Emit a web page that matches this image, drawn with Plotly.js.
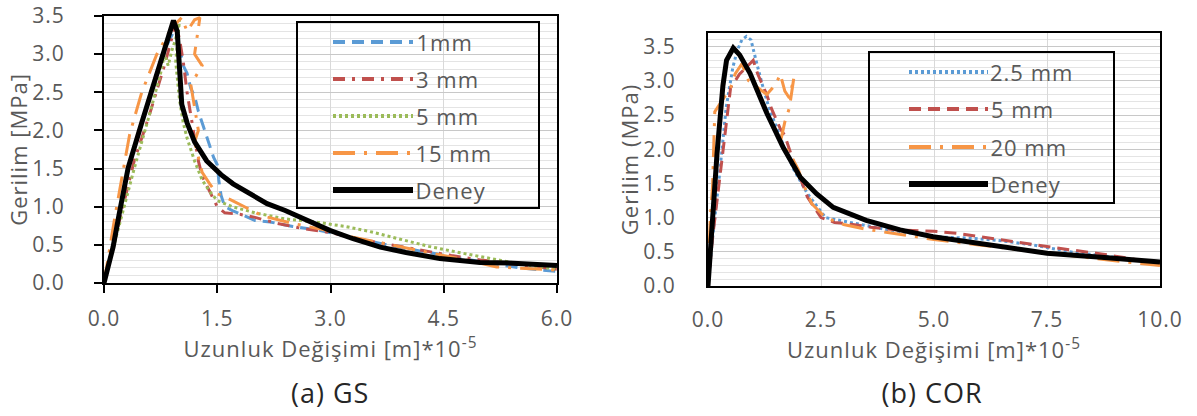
<!DOCTYPE html>
<html>
<head>
<meta charset="utf-8">
<script src="https://cdn.plot.ly/plotly-3.0.1.min.js"></script>
<style>
html,body{margin:0;padding:0;background:#fff;}
#chart{width:1197px;height:416px;}
#chart text{letter-spacing:1px;}
</style>
</head>
<body>
<div id="chart"></div>
<script>
// ---- (a) GS data ----
const gsDeneyX = [0, 0.12, 0.2, 0.32, 0.5, 0.7, 0.92, 0.97, 1.0, 1.03, 1.1, 1.2, 1.36, 1.55, 1.71, 1.95, 2.16, 2.4, 2.6, 2.99, 3.3, 3.66, 4.0, 4.45, 4.98, 5.42, 6.0];
const gsDeneyY = [0, 0.47, 0.9, 1.51, 2.1, 2.75, 3.44, 3.3, 2.81, 2.34, 2.1, 1.85, 1.6, 1.42, 1.30, 1.16, 1.04, 0.95, 0.86, 0.69, 0.58, 0.47, 0.40, 0.32, 0.27, 0.26, 0.23];
const gs1X = [0, 0.15, 0.3, 0.5, 0.7, 0.85, 0.95, 1.0, 1.05, 1.1, 1.15, 1.2, 1.25, 1.3, 1.35, 1.4, 1.45, 1.5, 1.52, 1.55, 1.6, 1.7, 1.85, 2.0, 2.2, 2.5, 2.8, 3.1, 3.5, 3.9, 4.3, 4.7, 5.1, 5.5, 6.0];
const gs1Y = [0, 0.6, 1.45, 2.1, 2.75, 3.15, 3.35, 3.1, 2.85, 2.75, 2.55, 2.45, 2.25, 2.1, 1.95, 1.8, 1.65, 1.55, 1.35, 1.15, 1.0, 0.95, 0.88, 0.82, 0.8, 0.74, 0.7, 0.64, 0.55, 0.47, 0.4, 0.33, 0.26, 0.2, 0.15];
const gs3X = [0, 0.2, 0.4, 0.6, 0.8, 0.95, 1.0, 1.05, 1.1, 1.15, 1.2, 1.25, 1.3, 1.35, 1.4, 1.5, 1.6, 1.8, 2.0, 2.3, 2.6, 3.0, 3.4, 3.8, 4.2, 4.6, 5.0, 5.4, 5.8, 6.0];
const gs3Y = [0, 0.8, 1.6, 2.2, 2.85, 3.4, 3.2, 2.9, 2.5, 2.2, 1.9, 1.6, 1.4, 1.3, 1.2, 1.0, 0.92, 0.9, 0.86, 0.78, 0.72, 0.66, 0.57, 0.5, 0.42, 0.36, 0.3, 0.25, 0.2, 0.18];
const gs5X = [0, 0.2, 0.4, 0.6, 0.75, 0.8, 0.85, 0.9, 0.95, 1.0, 0.95, 1.0, 1.05, 1.1, 1.2, 1.3, 1.4, 1.5, 1.7, 2.0, 2.4, 2.8, 3.2, 3.5, 3.9, 4.3, 4.7, 5.0, 5.5, 6.0];
const gs5Y = [0, 0.75, 1.5, 2.2, 2.75, 3.0, 2.85, 3.05, 3.2, 3.45, 2.9, 2.4, 2.1, 1.9, 1.6, 1.35, 1.2, 1.08, 1.0, 0.92, 0.84, 0.8, 0.74, 0.68, 0.58, 0.48, 0.4, 0.34, 0.25, 0.18];
const gs15X = [0, 0.15, 0.34, 0.5, 0.7, 0.9, 1.03, 1.1, 1.2, 1.27, 1.2, 1.3, 1.15, 1.2, 1.25, 1.2, 1.3, 1.4, 1.5, 1.7, 1.9, 2.1, 2.5, 2.9, 3.3, 3.7, 4.1, 4.5, 4.9, 5.2, 5.6, 6.0];
const gs15Y = [0, 0.9, 1.95, 2.5, 3.0, 3.35, 3.48, 3.3, 3.45, 3.48, 3.0, 2.85, 2.6, 2.3, 2.0, 1.85, 1.45, 1.3, 1.17, 1.08, 0.98, 0.88, 0.78, 0.7, 0.6, 0.52, 0.44, 0.36, 0.28, 0.21, 0.19, 0.17];

// ---- (b) COR data ----
const corDeneyX = [0, 0.09, 0.2, 0.33, 0.41, 0.56, 0.7, 0.93, 1.3, 1.66, 2.04, 2.4, 2.77, 3.5, 4.25, 4.98, 6.0, 7.5, 8.7, 10.0];
const corDeneyY = [0, 0.96, 1.94, 2.93, 3.3, 3.48, 3.38, 3.11, 2.53, 2.03, 1.59, 1.35, 1.15, 0.96, 0.82, 0.72, 0.62, 0.48, 0.42, 0.35];
const cor25X = [0, 0.1, 0.25, 0.4, 0.55, 0.65, 0.75, 0.85, 0.95, 1.0, 1.1, 1.2, 1.35, 1.5, 1.7, 1.9, 2.2, 2.6, 3.0, 3.5, 4.0, 4.5, 5.0, 5.8, 6.5, 7.2, 8.0, 9.0, 10.0];
const cor25Y = [0, 0.7, 1.6, 2.6, 3.2, 3.45, 3.6, 3.65, 3.6, 3.45, 3.2, 2.95, 2.6, 2.35, 2.0, 1.7, 1.35, 1.0, 0.95, 0.88, 0.82, 0.77, 0.72, 0.7, 0.66, 0.6, 0.5, 0.42, 0.33];
const cor5X = [0, 0.1, 0.3, 0.5, 0.7, 0.85, 1.0, 1.1, 1.2, 1.3, 1.4, 1.5, 1.6, 1.7, 1.8, 1.9, 2.0, 2.2, 2.5, 2.8, 3.2, 3.6, 4.2, 5.0, 5.5, 6.2, 6.8, 7.5, 8.0, 8.7, 10.0];
const cor5Y = [0, 0.7, 1.8, 2.9, 3.1, 3.2, 3.3, 3.1, 2.95, 2.8, 2.6, 2.45, 2.3, 2.2, 2.0, 1.8, 1.65, 1.3, 1.0, 0.93, 0.9, 0.86, 0.82, 0.8, 0.77, 0.7, 0.64, 0.57, 0.53, 0.47, 0.33];
const cor20X = [0, 0.05, 0.1, 0.15, 0.3, 0.5, 0.6, 0.75, 0.9, 1.1, 1.3, 1.5, 1.6, 1.7, 1.8, 1.9, 1.8, 1.7, 1.6, 1.8, 2.0, 2.1, 2.3, 2.6, 3.0, 3.5, 4.0, 4.5, 5.0, 6.0, 7.0, 8.0, 9.0, 10.0];
const cor20Y = [0, 1.0, 1.45, 2.55, 2.7, 2.9, 3.1, 3.25, 3.0, 2.9, 2.8, 2.95, 3.1, 2.85, 2.75, 3.05, 2.6, 2.4, 2.1, 1.95, 1.7, 1.5, 1.2, 1.0, 0.9, 0.83, 0.78, 0.73, 0.68, 0.6, 0.52, 0.44, 0.37, 0.3];

// ---- names / labels ----
const gsNames = ['1mm', '3 mm', '5 mm', '15 mm', 'Deney'];
const corNames = ['2.5 mm', '5 mm', '20 mm', 'Deney'];
const panelCaptions = ['(a) GS', '(b) COR'];
const yTitles = ['Gerilim [MPa]', 'Gerilim (MPa)'];
const xTitle = 'Uzunluk Değişimi [m]*10<sup>-5</sup>';

const C_BLUE = '#5B9BD5', C_RED = '#C0504D', C_GREEN = '#9BBB59', C_ORANGE = '#F79646', C_BLACK = '#000000';
const FONT = '"Open Sans", Lato, sans-serif';
const GRAY = '#595959';

const gsStyles = [
  {color: C_BLUE, dash: '12px,7px', width: 3},
  {color: C_RED, dash: '12px,7px,3px,7px', width: 3},
  {color: C_GREEN, dash: '3px,3px', width: 3},
  {color: C_ORANGE, dash: '22px,9px,3px,9px', width: 3},
  {color: C_BLACK, dash: 'solid', width: 5}
];
const corStyles = [
  {color: C_BLUE, dash: '3px,3px', width: 3},
  {color: C_RED, dash: '12px,7px', width: 3},
  {color: C_ORANGE, dash: '22px,9px,3px,9px', width: 3},
  {color: C_BLACK, dash: 'solid', width: 5}
];

const gsSeries = [[gs1X, gs1Y], [gs3X, gs3Y], [gs5X, gs5Y], [gs15X, gs15Y], [gsDeneyX, gsDeneyY]];
const corSeries = [[cor25X, cor25Y], [cor5X, cor5Y], [cor20X, cor20Y], [corDeneyX, corDeneyY]];

const data = [];
gsSeries.forEach((s, i) => data.push({x: s[0], y: s[1], name: gsNames[i], type: 'scatter', mode: 'lines',
  line: gsStyles[i], xaxis: 'x', yaxis: 'y', hoverinfo: 'skip', showlegend: false}));
corSeries.forEach((s, i) => data.push({x: s[0], y: s[1], name: corNames[i], type: 'scatter', mode: 'lines',
  line: corStyles[i], xaxis: 'x2', yaxis: 'y2', hoverinfo: 'skip', showlegend: false}));

const W = 1197, H = 416;
function px(v) { return v / W; }
function py(v) { return 1 - v / H; }

const FS = 22;
const tickFont = {family: FONT, size: 21, color: GRAY};

function xaxis(domain, range, dtick, tickcolor, standoff, anchor) {
  return {domain: domain, range: range, dtick: dtick, tick0: 0, tickformat: '.1f',
    showline: true, mirror: true, linecolor: '#000', linewidth: 2,
    ticks: 'outside', ticklen: 8, tickwidth: 2, tickcolor: tickcolor, ticklabelstandoff: standoff,
    ticklabeloverflow: 'allow',
    showgrid: true, gridcolor: '#D9D9D9', gridwidth: 1, zeroline: false,
    tickfont: tickFont, automargin: false, anchor: anchor,
    title: {text: xTitle, font: {family: FONT, size: FS, color: GRAY}, standoff: 1}};
}
function yaxis(domain, range, tickcolor, standoff, title, anchor) {
  return {domain: domain, range: range, dtick: 0.5, tick0: 0, tickformat: '.1f',
    showline: true, mirror: true, linecolor: '#000', linewidth: 2,
    ticks: 'outside', ticklen: 8, tickwidth: 2, tickcolor: tickcolor, ticklabelstandoff: standoff,
    ticklabeloverflow: 'allow',
    showgrid: true, gridcolor: '#C8C8C8', gridwidth: 1, zeroline: false,
    minor: {dtick: 0.1, showgrid: true, gridcolor: '#E4E4E4', gridwidth: 1},
    tickfont: tickFont, automargin: false, anchor: anchor,
    title: {text: title, font: {family: FONT, size: FS, color: GRAY}, standoff: 2}};
}

// custom legends (long sample lines like the original)
const shapes = [];
const annotations = [];
function addLegend(names, styles, box, itemYs, lineX0, lineX1, textX) {
  shapes.push({type: 'rect', xref: 'paper', yref: 'paper', x0: px(box[0]), x1: px(box[1]),
    y0: py(box[3]), y1: py(box[2]), line: {color: '#000', width: 2}, fillcolor: 'rgba(0,0,0,0)', layer: 'above'});
  names.forEach((n, i) => {
    shapes.push({type: 'line', xref: 'paper', yref: 'paper', x0: px(lineX0), x1: px(lineX1),
      y0: py(itemYs[i]), y1: py(itemYs[i]), line: {color: styles[i].color, dash: styles[i].dash, width: styles[i].width + 1}, layer: 'above'});
    annotations.push({text: n, xref: 'paper', yref: 'paper', x: px(textX), y: py(itemYs[i]),
      xanchor: 'left', yanchor: 'middle', showarrow: false, font: {family: FONT, size: FS, color: GRAY}});
  });
}
addLegend(gsNames, gsStyles, [297, 539, 22, 208], [42, 79, 116, 153, 190], 333, 413, 416);
addLegend(corNames, corStyles, [869, 1114, 52, 203], [72, 109, 147, 184], 909, 988, 991);

annotations.push({text: panelCaptions[0], xref: 'paper', yref: 'paper', x: px(330), y: py(392), showarrow: false,
  font: {family: FONT, size: 27, color: '#262626'}, xanchor: 'center', yanchor: 'middle'});
annotations.push({text: panelCaptions[1], xref: 'paper', yref: 'paper', x: px(932), y: py(392), showarrow: false,
  font: {family: FONT, size: 27, color: '#262626'}, xanchor: 'center', yanchor: 'middle'});

const layout = {
  width: W, height: H,
  margin: {l: 0, r: 0, t: 0, b: 0},
  paper_bgcolor: '#fff', plot_bgcolor: '#fff',
  showlegend: false,
  xaxis: xaxis([px(104), px(557)], [0, 6], 1.5, '#000', 8, 'y'),
  yaxis: yaxis([py(283), py(16)], [0, 3.5], '#000', 25, yTitles[0], 'x'),
  xaxis2: xaxis([px(708), px(1160)], [0, 10], 2.5, 'rgba(0,0,0,0)', 6, 'y2'),
  yaxis2: yaxis([py(286), py(33)], [0, 3.7], 'rgba(0,0,0,0)', 18, yTitles[1], 'x2'),
  shapes: shapes,
  annotations: annotations
};

Plotly.newPlot('chart', data, layout, {staticPlot: true, displayModeBar: false});
</script>
</body>
</html>
